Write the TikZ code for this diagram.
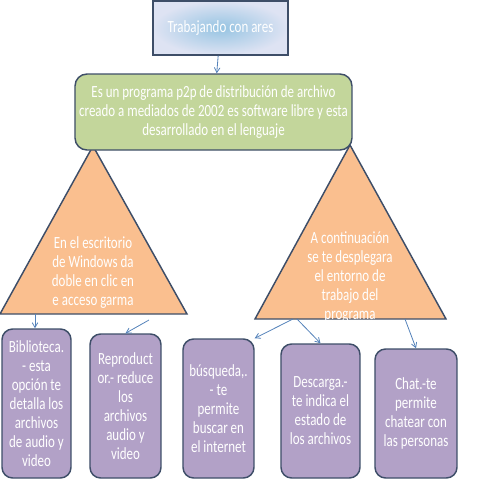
\documentclass[tikz,border=0pt]{standalone}
\usepackage{fontspec}
\setmainfont{Carlito}[FakeStretch=0.76]
\usetikzlibrary{arrows}
\definecolor{borde}{RGB}{62,78,104}
\definecolor{flecha}{RGB}{84,130,186}
\definecolor{verde}{RGB}{195,214,155}
\definecolor{naranja}{RGB}{250,191,143}
\definecolor{lila}{RGB}{178,161,199}
\definecolor{celeste}{RGB}{150,196,226}
\definecolor{lavanda}{RGB}{222,227,243}

\begin{document}
\begin{tikzpicture}[x=0.75pt,y=-0.75pt,
    arrow/.style={->, >=angle 60, draw=flecha, line width=.6pt},
    texto/.style={text=white, align=center, inner sep=0, font=\fontsize{12.8}{14.25}\selectfont},
    caja/.style={texto, draw=borde, line width=1.1pt, rounded corners=8pt, fill=lila}]

\useasboundingbox (0,0) rectangle (480,480);

% titulo
\node [texto, draw=borde, line width=1.1pt, inner color=celeste, outer color=lavanda,
    minimum width=101pt, minimum height=40.5pt] (titulo) at (220.5,28) {Trabajando con ares};

% triangulos
\draw [fill=naranja, draw=borde, line width=1.1pt] (93,146) -- (187,314) -- (0,314) -- cycle;
\draw [fill=naranja, draw=borde, line width=1.1pt] (350,145) -- (446,319) -- (255,319) -- cycle;

\node [caja, fill=verde, rounded corners=9pt, minimum width=207.75pt, minimum height=57pt] (prog) at (213.5,112)
    {Es un programa p2p de distribución de archivo\\creado a mediados de 2002 es software libre y esta\\desarrollado en el lenguaje};
\draw [arrow] (titulo) -- (prog);

\node [texto] (escritorio) at (93,273) {En el escritorio\\de Windows da\\doble en clic en\\e acceso garma};
\node [texto] (entorno) at (350,277) {A continuación\\se te desplegara\\el entorno de\\trabajo del\\programa};

% cajas de abajo
\node [caja, minimum width=51.75pt, minimum height=111.75pt] (biblio) at (36.5,403.5)
    {Biblioteca.\\- esta\\opción te\\detalla los\\archivos\\de audio y\\video};
\node [caja, minimum width=53.25pt, minimum height=108pt] (repro) at (125.5,406)
    {Reproduct\\or.- reduce\\los\\archivos\\audio y\\video};
\node [caja, minimum width=53.25pt, minimum height=104.25pt] (busca) at (218.5,408.5)
    {búsqueda,.\\- te\\permite\\buscar en\\el internet};
\node [caja, minimum width=59.25pt, minimum height=100.5pt] (descarga) at (320.5,411)
    {Descarga.-\\te indica el\\estado de\\los archivos};
\node [caja, minimum width=61.5pt, minimum height=96.75pt] (chat) at (416,413.5)
    {Chat.-te\\permite\\chatear con\\las personas};

% flechas
\coordinate (a1) at (35,314);
\coordinate (a2) at (149,320);
\coordinate (a3) at (293,319);
\coordinate (a4) at (297,319);
\coordinate (a5) at (405,319);
\draw [arrow] (a1) -- (biblio.north -| a1);
\draw [arrow] (a2) -- (repro.north);
\draw [arrow] (a3) -- (busca.north east);
\draw [arrow] (a4) -- (descarga.north);
\draw [arrow] (a5) -- (chat.north);
\end{tikzpicture}
\end{document}
